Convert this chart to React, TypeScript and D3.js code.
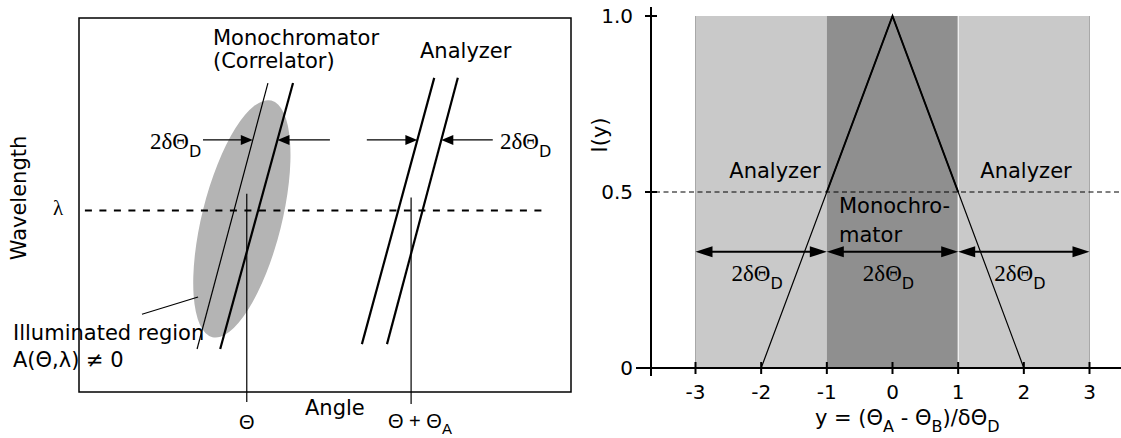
import React from "react";
import * as d3 from "d3";

// ---------- Right panel data ----------
const X_TICKS = [-3, -2, -1, 0, 1, 2, 3];
const Y_TICKS = [0, 0.5, 1];
const Y_TICK_LABELS = ["0", "0.5", "1.0"];
const REGION_FROM = [-3, -1, 1];
const REGION_TO = [-1, 1, 3];
const REGION_KIND = ["analyzer", "mono", "analyzer"];
const TRIANGLE_X = [-2, 0, 2];
const TRIANGLE_Y = [0, 1, 0];
const HALF_LEVEL = 0.5;
const ARROW_LEVEL = 0.33;

// ---------- Left panel (schematic) data, in angle/wavelength units 0..10 ----------
const THETA = 3.41;
const THETA_PLUS_A = 6.75;
const LAMBDA = 4.85;
const LEFT_ARROW_LEVEL = 6.74;
// lines: [xTop, yTop, xBottom, yBottom]
const MONO_THIN = [3.84, 8.26, 2.4, 1.15];
const MONO_THICK = [4.35, 8.26, 2.87, 1.15];
const ANA_1 = [7.22, 8.4, 5.75, 1.28];
const ANA_2 = [7.7, 8.4, 6.26, 1.28];
const ELLIPSE = { cx: 3.31, cy: 4.63, rx: 0.81, ry: 3.26, tilt: 14 };
const ARROW_STARTS = [2.52, 5.1, 5.85, 8.41];

const SANS = "DejaVu Sans, Verdana, sans-serif";
const SERIF = "Liberation Serif, Times New Roman, serif";
const ARIAL = "Liberation Sans, Arial, sans-serif";
const FS = 21;

function lineXAt(l: number[], y: number) {
  const t = (y - l[1]) / (l[3] - l[1]);
  return l[0] + (l[2] - l[0]) * t;
}

function head(tipX: number, tipY: number, dir: number, len: number, hw: number) {
  return `M${tipX},${tipY}L${tipX - dir * len},${tipY - hw}L${tipX - dir * len},${tipY + hw}Z`;
}

function DeltaLabel({ x, y, anchor = "start", size = 23 }: any) {
  return (
    <text x={x} y={y} textAnchor={anchor} fill="#000">
      <tspan fontFamily={SERIF} fontSize={size}>2δΘ</tspan>
      <tspan fontFamily={SANS} fontSize={16} dy={8}>D</tspan>
    </text>
  );
}

export default function App() {
  // left scales
  const xL = d3.scaleLinear().domain([0, 10]).range([79, 571]);
  const yL = d3.scaleLinear().domain([0, 10]).range([392, 18]);
  // right scales
  const xR = d3.scaleLinear().domain([-3, 3]).range([695.5, 1089.5]);
  const yR = d3.scaleLinear().domain([0, 1]).range([368, 16]);

  const lineGen = d3
    .line<number[]>()
    .x((d) => xR(d[0]))
    .y((d) => yR(d[1]));
  const tri = TRIANGLE_X.map((x, i) => [x, TRIANGLE_Y[i]]);
  const leftHalfX = TRIANGLE_X[0] + (TRIANGLE_X[1] - TRIANGLE_X[0]) * HALF_LEVEL;
  const rightHalfX = TRIANGLE_X[2] + (TRIANGLE_X[1] - TRIANGLE_X[2]) * HALF_LEVEL;
  const upper = [
    [leftHalfX, HALF_LEVEL],
    [TRIANGLE_X[1], TRIANGLE_Y[1]],
    [rightHalfX, HALF_LEVEL],
  ];

  const drawLine = (l: number[], w: number, key: string) => (
    <line key={key} x1={xL(l[0])} y1={yL(l[1])} x2={xL(l[2])} y2={yL(l[3])} stroke="#000" strokeWidth={w} />
  );

  const ay = yL(LEFT_ARROW_LEVEL);
  const leftArrows = [
    { from: ARROW_STARTS[0], to: lineXAt(MONO_THIN, LEFT_ARROW_LEVEL) },
    { from: ARROW_STARTS[1], to: lineXAt(MONO_THICK, LEFT_ARROW_LEVEL) },
    { from: ARROW_STARTS[2], to: lineXAt(ANA_1, LEFT_ARROW_LEVEL) },
    { from: ARROW_STARTS[3], to: lineXAt(ANA_2, LEFT_ARROW_LEVEL) },
  ];

  const ecx = xL(ELLIPSE.cx);
  const ecy = yL(ELLIPSE.cy);
  const erx = xL(ELLIPSE.rx) - xL(0);
  const ery = yL(0) - yL(ELLIPSE.ry);

  const ry = yR(ARROW_LEVEL);

  return (
    <svg
      width={1121}
      height={438}
      style={{ position: "absolute", left: 0, top: 0, background: "#fff" }}
      fontFamily={SANS}
    >
      {/* ================= LEFT PANEL ================= */}
      <ellipse cx={ecx} cy={ecy} rx={erx} ry={ery} fill="#b4b4b4" transform={`rotate(${ELLIPSE.tilt},${ecx},${ecy})`} />
      <rect x={xL(0)} y={yL(10)} width={xL(10) - xL(0)} height={yL(0) - yL(10)} fill="none" stroke="#000" strokeWidth={1.5} />
      <line x1={xL(0.12)} x2={xL(9.55)} y1={yL(LAMBDA)} y2={yL(LAMBDA)} stroke="#000" strokeWidth={2} strokeDasharray="7,7.5" />
      <line x1={xL(THETA)} x2={xL(THETA)} y1={yL(5.3)} y2={yL(-0.27)} stroke="#000" strokeWidth={1.2} />
      <line x1={xL(THETA_PLUS_A)} x2={xL(THETA_PLUS_A)} y1={yL(5.2)} y2={yL(-0.32)} stroke="#000" strokeWidth={1.2} />
      {drawLine(MONO_THIN, 1.2, "mt")}
      {drawLine(MONO_THICK, 2.2, "mk")}
      {drawLine(ANA_1, 2.2, "a1")}
      {drawLine(ANA_2, 2.2, "a2")}
      {/* leader */}
      <line x1={xL(1.28)} y1={yL(2.08)} x2={xL(2.42)} y2={yL(2.54)} stroke="#000" strokeWidth={1.2} />
      {leftArrows.map((a, i) => {
        const x1 = xL(a.from);
        const x2 = xL(a.to);
        const dir = x2 > x1 ? 1 : -1;
        return (
          <g key={"la" + i}>
            <line x1={x1} x2={x2 - dir * 8} y1={ay} y2={ay} stroke="#000" strokeWidth={1.3} />
            <path d={head(x2, ay, dir, 12, 5)} fill="#000" />
          </g>
        );
      })}
      <text x={213} y={45} fontSize={FS}>Monochromator</text>
      <text x={213} y={68} fontSize={FS}>(Correlator)</text>
      <text x={420} y={58} fontSize={FS}>Analyzer</text>
      <DeltaLabel x={150} y={149} />
      <DeltaLabel x={500} y={149} />
      <text x={58} y={215} fontSize={21} fontFamily={SERIF} textAnchor="middle">λ</text>
      <text transform="translate(26,198) rotate(-90)" fontSize={FS} textAnchor="middle">Wavelength</text>
      <text x={13} y={340} fontSize={FS}>Illuminated region</text>
      <text x={13} y={367} fontSize={FS}>A(Θ,λ) ≠ 0</text>
      <text x={305} y={415} fontSize={FS}>Angle</text>
      <text x={xL(THETA)} y={429} fontSize={20} textAnchor="middle" fontFamily={ARIAL}>Θ</text>
      <text x={388} y={428} fontSize={20} fontFamily={ARIAL}>
        Θ + Θ<tspan fontSize={15} dy={6}>A</tspan>
      </text>

      {/* ================= RIGHT PANEL ================= */}
      {REGION_FROM.map((f, i) => (
        <rect
          key={"r" + i}
          x={xR(f)}
          y={yR(1)}
          width={xR(REGION_TO[i]) - xR(f)}
          height={yR(0) - yR(1)}
          fill={REGION_KIND[i] === "mono" ? "#8f8f8f" : "#c9c9c9"}
        />
      ))}
      <line x1={xR(-3)} x2={xR(-3)} y1={yR(1)} y2={yR(0)} stroke="#a8a8a8" strokeWidth={1} />
      <line x1={xR(3)} x2={xR(3)} y1={yR(1)} y2={yR(0)} stroke="#a8a8a8" strokeWidth={1} />
      <line x1={xR(1)} x2={xR(1)} y1={yR(1)} y2={yR(0)} stroke="#fff" strokeWidth={1} />
      <line x1={655} x2={1121} y1={yR(HALF_LEVEL)} y2={yR(HALF_LEVEL)} stroke="#000" strokeWidth={1} strokeDasharray="5,3.5" />
      <path d={lineGen(tri) || ""} fill="none" stroke="#000" strokeWidth={1.2} />
      <path d={lineGen(upper) || ""} fill="none" stroke="#000" strokeWidth={2} strokeLinejoin="miter" />
      <line x1={xR(-3) - 59.5} x2={1121} y1={yR(0)} y2={yR(0)} stroke="#000" strokeWidth={2} />
      <line x1={651} x2={651} y1={7} y2={376} stroke="#000" strokeWidth={2} />
      {X_TICKS.map((t) => (
        <g key={"xt" + t}>
          <line x1={xR(t)} x2={xR(t)} y1={yR(0) - 6} y2={yR(0) + 6} stroke="#000" strokeWidth={2} />
          <text x={xR(t)} y={399} fontSize={20} textAnchor="middle">{t}</text>
        </g>
      ))}
      {Y_TICKS.map((t, i) => (
        <g key={"yt" + t}>
          <line x1={645} x2={657} y1={yR(t)} y2={yR(t)} stroke="#000" strokeWidth={2} />
          <text x={633} y={yR(t)} dy="0.36em" fontSize={20} textAnchor="end">{Y_TICK_LABELS[i]}</text>
        </g>
      ))}
      <text transform="translate(607,135) rotate(-90)" fontSize={FS} textAnchor="middle">I(y)</text>
      <text x={815} y={425} fontSize={FS}>
        y = (Θ<tspan fontSize={16} dy={7}>A</tspan>
        <tspan dy={-7}> - Θ</tspan>
        <tspan fontSize={16} dy={7}>B</tspan>
        <tspan dy={-7}>)/δΘ</tspan>
        <tspan fontSize={16} dy={7}>D</tspan>
      </text>
      {REGION_FROM.map((f, i) => {
        const x1 = xR(f);
        const x2 = xR(REGION_TO[i]);
        return (
          <g key={"ra" + i}>
            <line x1={x1 + 10} x2={x2 - 10} y1={ry} y2={ry} stroke="#000" strokeWidth={2} />
            <path d={head(x1, ry, -1, 17, 5.5)} fill="#000" />
            <path d={head(x2, ry, 1, 17, 5.5)} fill="#000" />
          </g>
        );
      })}
      {REGION_FROM.map((f, i) => (
        <DeltaLabel key={"dl" + i} x={(xR(f) + xR(REGION_TO[i])) / 2 - 4} y={281} anchor="middle" />
      ))}
      <text x={775} y={178} fontSize={FS} textAnchor="middle">Analyzer</text>
      <text x={1026} y={178} fontSize={FS} textAnchor="middle">Analyzer</text>
      <text x={839} y={213} fontSize={FS}>Monochro-</text>
      <text x={839} y={242} fontSize={FS}>mator</text>
    </svg>
  );
}
